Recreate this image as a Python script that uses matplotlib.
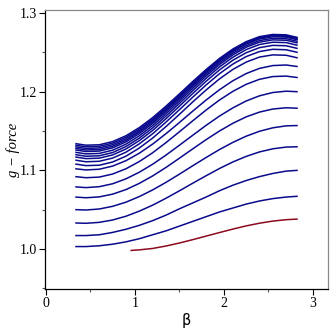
import matplotlib
matplotlib.use("Agg")
import matplotlib.pyplot as plt
from matplotlib.ticker import MultipleLocator

beta = [0.33, 0.45, 0.6, 0.75, 0.9, 1.05, 1.2, 1.35, 1.5, 1.65, 1.8, 1.95, 2.1, 2.25, 2.4, 2.55, 2.7, 2.83]

blue_curves = [
    [1.003, 1.003, 1.004, 1.006, 1.009, 1.013, 1.018, 1.023, 1.029, 1.035, 1.041, 1.047, 1.052, 1.057, 1.061, 1.064, 1.066, 1.067],
    [1.017, 1.017, 1.018, 1.021, 1.025, 1.030, 1.036, 1.043, 1.051, 1.0585, 1.066, 1.074, 1.081, 1.087, 1.092, 1.096, 1.099, 1.100],
    [1.033, 1.0326, 1.0338, 1.0368, 1.0416, 1.0481, 1.0557, 1.0645, 1.0739, 1.0836, 1.0931, 1.1023, 1.1106, 1.1177, 1.1234, 1.1274, 1.1296, 1.130],
    [1.050, 1.0495, 1.0508, 1.0542, 1.0595, 1.0666, 1.0751, 1.0847, 1.0951, 1.1058, 1.1163, 1.1264, 1.1355, 1.1434, 1.1497, 1.1541, 1.1566, 1.157],
    [1.066, 1.0651, 1.0662, 1.0697, 1.0755, 1.0834, 1.0929, 1.1037, 1.1154, 1.1273, 1.1390, 1.1500, 1.1598, 1.1680, 1.1741, 1.1780, 1.1796, 1.179],
    [1.079, 1.0780, 1.0792, 1.0829, 1.0892, 1.0976, 1.1078, 1.1194, 1.1319, 1.1446, 1.1572, 1.1690, 1.1794, 1.1882, 1.1948, 1.1990, 1.2007, 1.200],
    [1.092, 1.0906, 1.0914, 1.0953, 1.1020, 1.1112, 1.1224, 1.1353, 1.1490, 1.1630, 1.1767, 1.1894, 1.2004, 1.2094, 1.2158, 1.2193, 1.2199, 1.218],
    [1.102, 1.1005, 1.1014, 1.1054, 1.1123, 1.1218, 1.1334, 1.1467, 1.1608, 1.1753, 1.1894, 1.2025, 1.2139, 1.2231, 1.2297, 1.2333, 1.2340, 1.232],
    [1.108, 1.1060, 1.1065, 1.1106, 1.1180, 1.1284, 1.1411, 1.1557, 1.1712, 1.1870, 1.2022, 1.2163, 1.2283, 1.2377, 1.2441, 1.2469, 1.2464, 1.243],
    [1.113, 1.1109, 1.1115, 1.1156, 1.1231, 1.1337, 1.1466, 1.1614, 1.1771, 1.1931, 1.2086, 1.2229, 1.2351, 1.2447, 1.2511, 1.2540, 1.2534, 1.250],
    [1.117, 1.1149, 1.1155, 1.1196, 1.1272, 1.1378, 1.1508, 1.1657, 1.1816, 1.1977, 1.2133, 1.2277, 1.2400, 1.2496, 1.2561, 1.2590, 1.2585, 1.255],
    [1.120, 1.1179, 1.1185, 1.1226, 1.1303, 1.1410, 1.1541, 1.1691, 1.1851, 1.2013, 1.2170, 1.2315, 1.2438, 1.2536, 1.2601, 1.2630, 1.2625, 1.259],
    [1.123, 1.1209, 1.1215, 1.1256, 1.1333, 1.1440, 1.1571, 1.1721, 1.1881, 1.2043, 1.2200, 1.2345, 1.2468, 1.2566, 1.2631, 1.2660, 1.2655, 1.262],
    [1.126, 1.1239, 1.1245, 1.1286, 1.1362, 1.1468, 1.1598, 1.1747, 1.1906, 1.2067, 1.2223, 1.2367, 1.2490, 1.2586, 1.2651, 1.2680, 1.2675, 1.264],
    [1.128, 1.1259, 1.1265, 1.1306, 1.1382, 1.1488, 1.1618, 1.1767, 1.1926, 1.2087, 1.2243, 1.2387, 1.2510, 1.2606, 1.2671, 1.2700, 1.2695, 1.266],
    [1.130, 1.1279, 1.1285, 1.1326, 1.1401, 1.1507, 1.1636, 1.1784, 1.1941, 1.2101, 1.2256, 1.2399, 1.2521, 1.2617, 1.2681, 1.2710, 1.2704, 1.267],
    [1.132, 1.1300, 1.1305, 1.1346, 1.1421, 1.1525, 1.1653, 1.1800, 1.1956, 1.2116, 1.2269, 1.2411, 1.2532, 1.2627, 1.2691, 1.2719, 1.2714, 1.268],
    [1.134, 1.1320, 1.1325, 1.1366, 1.1440, 1.1544, 1.1671, 1.1817, 1.1972, 1.2130, 1.2282, 1.2423, 1.2543, 1.2637, 1.2701, 1.2729, 1.2724, 1.269],
]

red_beta = [0.95, 1.05, 1.2, 1.35, 1.5, 1.65, 1.8, 1.95, 2.1, 2.25, 2.4, 2.55, 2.7, 2.83]
red_curve = [0.998, 0.9988, 1.0006, 1.0037, 1.0075, 1.0118, 1.0163, 1.0208, 1.0252, 1.0293, 1.0327, 1.0354, 1.0372, 1.038]

x_ticks = [0, 1, 2, 3]
y_ticks = [1.0, 1.1, 1.2, 1.3]
y_tick_labels = ["1.0", "1.1", "1.2", "1.3"]

fig = plt.figure(figsize=(3.32, 3.32), dpi=100)
ax = fig.add_axes([45 / 332, 43 / 332, 283 / 332, 279 / 332])

for c in blue_curves:
    ax.plot(beta, c, color="#0a0a8c", lw=1.1, solid_capstyle="butt", solid_joinstyle="round")
ax.plot(red_beta, red_curve, color="#8c0a1e", lw=1.1, solid_capstyle="butt", solid_joinstyle="round")

ax.set_xlim(-0.01, 3.17)
ax.set_ylim(0.949, 1.304)
ax.set_xticks(x_ticks)
ax.set_xticklabels([str(v) for v in x_ticks])
ax.set_yticks(y_ticks)
ax.set_yticklabels(y_tick_labels)
ax.xaxis.set_minor_locator(MultipleLocator(0.5))
ax.yaxis.set_minor_locator(MultipleLocator(0.05))

ax.tick_params(which="major", direction="out", length=4, width=0.8, color="black",
               labelsize=10, pad=2)
ax.tick_params(which="minor", direction="out", length=2.5, width=0.8, color="#555555")
for lab in ax.get_xticklabels() + ax.get_yticklabels():
    lab.set_fontfamily("Liberation Serif")

ax.spines["left"].set_color("black")
ax.spines["bottom"].set_color("black")
ax.spines["top"].set_color("#888888")
ax.spines["right"].set_color("#888888")
for s in ax.spines.values():
    s.set_linewidth(0.9)

ax.set_xlabel("β", fontsize=10.5, family="DejaVu Sans", labelpad=2)
ax.set_ylabel("g − force", fontsize=10.5, family="Liberation Serif", style="italic")
ax.yaxis.set_label_coords(-0.09, 0.5)

fig.savefig("out.png", dpi=100)
